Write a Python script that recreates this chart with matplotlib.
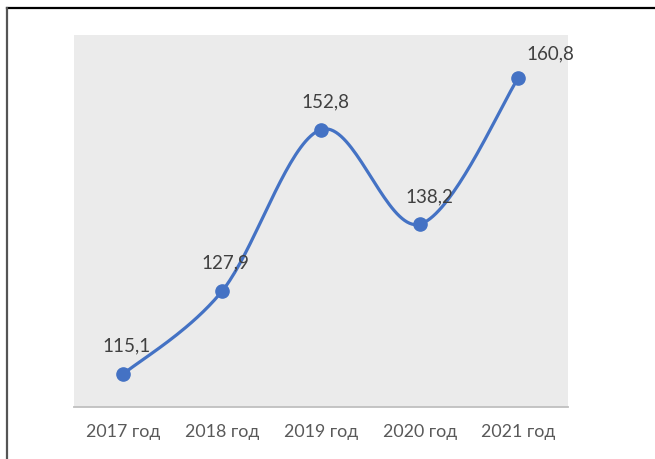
import numpy as np
import matplotlib.pyplot as plt
from matplotlib.lines import Line2D

years = ['2017 год', '2018 год', '2019 год', '2020 год', '2021 год']
values = [115.1, 127.9, 152.8, 138.2, 160.8]
value_labels = ['115,1', '127,9', '152,8', '138,2', '160,8']

plt.rcParams['font.family'] = ['Lato', 'DejaVu Sans']


def smooth_curve(x, y, steps=40):
    # Catmull-Rom style cubic Bezier between neighbouring points
    x = np.asarray(x, dtype=float)
    y = np.asarray(y, dtype=float)
    px = np.concatenate([[x[0]], x, [x[-1]]])
    py = np.concatenate([[y[0]], y, [y[-1]]])
    xs, ys = [], []
    t = np.linspace(0, 1, steps)
    for i in range(1, len(px) - 2):
        p0 = np.array([px[i], py[i]])
        p3 = np.array([px[i + 1], py[i + 1]])
        c1 = p0 + (np.array([px[i + 1], py[i + 1]]) - np.array([px[i - 1], py[i - 1]])) / 6
        c2 = p3 - (np.array([px[i + 2], py[i + 2]]) - np.array([px[i], py[i]])) / 6
        b = ((1 - t) ** 3)[:, None] * p0 + (3 * (1 - t) ** 2 * t)[:, None] * c1 \
            + (3 * (1 - t) * t ** 2)[:, None] * c2 + (t ** 3)[:, None] * p3
        xs.extend(b[:, 0])
        ys.extend(b[:, 1])
    return np.array(xs), np.array(ys)


fig = plt.figure(figsize=(6.55, 4.59), dpi=100)
ax = fig.add_axes([0.113, 0.1133, 0.754, 0.8105])
ax.set_facecolor('#ebebeb')

xpos = np.arange(len(years))
sx, sy = smooth_curve(xpos, values)
ax.plot(sx, sy, color='#4472c4', lw=2.3, solid_capstyle='round', zorder=3)
ax.plot(xpos, values, 'o', color='#4472c4', markersize=9.5, zorder=4)

offsets = [(2, 20), (2, 20), (3, 20), (7, 20), (23, 17)]
for x, v, lab, off in zip(xpos, values, value_labels, offsets):
    ax.annotate(lab, (x, v), xytext=off, textcoords='offset points',
                ha='center', va='center', fontsize=13.5, color='#404040')

ax.set_xlim(-0.5, 4.5)
ax.set_ylim(110, 167.4)
ax.set_xticks(xpos)
ax.set_xticklabels(years, fontsize=12.8, color='#595959')
ax.set_yticks([])
ax.tick_params(axis='x', length=0, pad=12)
for side in ['top', 'left', 'right']:
    ax.spines[side].set_visible(False)
ax.spines['bottom'].set_color('#bfbfbf')
ax.spines['bottom'].set_linewidth(1.3)

# outer frame lines
fig.add_artist(Line2D([7 / 655, 1], [1 - 8 / 459, 1 - 8 / 459], color='black', lw=1.6))
fig.add_artist(Line2D([7 / 655, 7 / 655], [0, 1 - 8 / 459], color='#555555', lw=1.6))

fig.savefig('out.png', dpi=100)
